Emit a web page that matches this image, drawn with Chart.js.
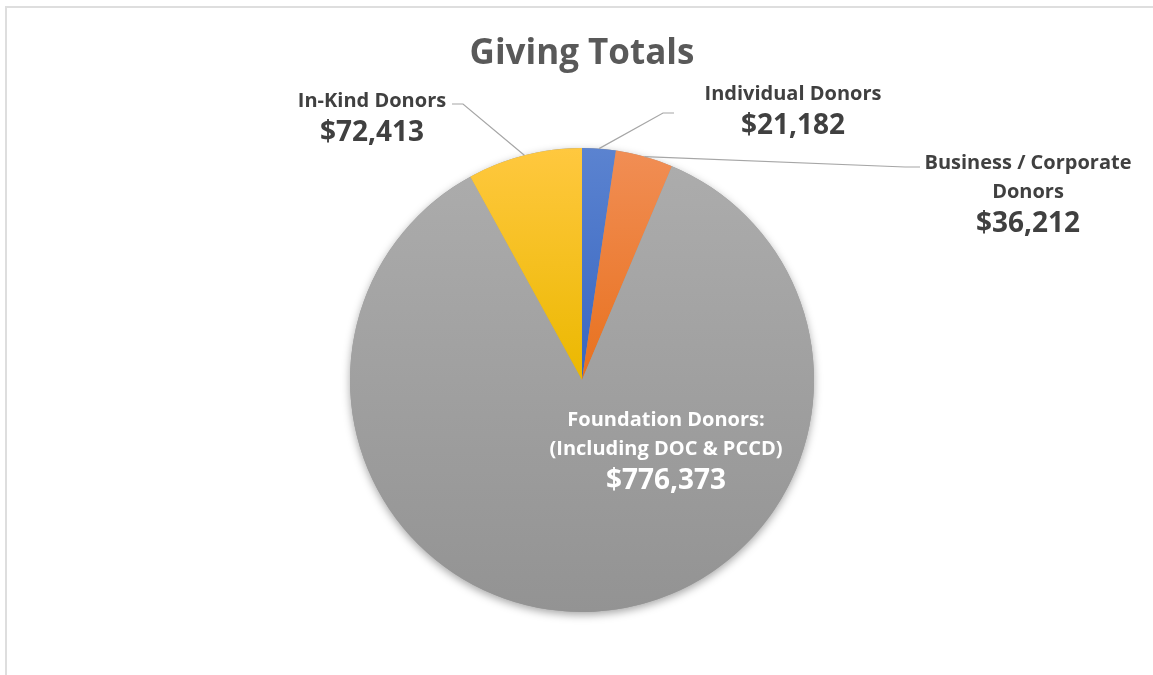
<!DOCTYPE html>
<html>
<head>
<meta charset="utf-8">
<title>Giving Totals</title>
<script src="https://cdn.jsdelivr.net/npm/chart.js@4"></script>
<style>
    html, body { margin: 0; padding: 0; background: #fff; overflow: hidden; }
    #frame {
        position: absolute; left: 5px; top: 6px; width: 1200px; height: 720px;
        border: 2px solid #dedede; box-sizing: border-box;
    }
    #wrap { position: absolute; left: 0; top: 0; width: 1153px; height: 675px; }
</style>
</head>
<body>
<div id="frame"></div>
<div id="wrap"><canvas id="givingChart"></canvas></div>
<script>
    // 데이터
    const categories = ['Individual Donors', 'Business / Corporate Donors', 'Foundation Donors', 'In-Kind Donors'];
    const totals = [21182, 36212, 776373, 72413];
    const labelLines = [
        ['Individual Donors'],
        ['Business / Corporate', 'Donors'],
        ['Foundation Donors:', '(Including DOC & PCCD)'],
        ['In-Kind Donors']
    ];
    const topColors = ['#5b83d0', '#f18e55', '#adadad', '#ffc83f'];
    const bottomColors = ['#3866c1', '#e8711e', '#939393', '#ebb800'];

    const FONT = '"Open Sans", Lato, sans-serif';

    function money(v) {
        return '$' + v.toLocaleString('en-US');
    }

    // 조각마다 위→아래 그라데이션
    function sliceFill(context) {
        const chart = context.chart;
        const area = chart.chartArea;
        if (!area) return topColors[context.dataIndex];
        const i = context.dataIndex;
        const midY = (area.top + area.bottom) / 2;
        const endY = i === 2 ? area.bottom : midY;
        const g = chart.ctx.createLinearGradient(0, area.top, 0, endY);
        g.addColorStop(0, topColors[i]);
        g.addColorStop(1, bottomColors[i]);
        return g;
    }

    // 파이 밑 그림자
    const pieShadow = {
        id: 'pieShadow',
        beforeDatasetsDraw(chart) {
            const arc = chart.getDatasetMeta(0).data[0];
            if (!arc) return;
            const ctx = chart.ctx;
            ctx.save();
            ctx.shadowColor = 'rgba(0,0,0,0.35)';
            ctx.shadowBlur = 9;
            ctx.shadowOffsetY = 3;
            ctx.fillStyle = '#999';
            ctx.beginPath();
            ctx.arc(arc.x, arc.y, arc.outerRadius, 0, Math.PI * 2);
            ctx.fill();
            ctx.restore();
        }
    };

    // 라벨 + 지시선
    // elbow / end / text 는 화면 위치(px)
    const labelSpots = [
        { elbow: [663, 113], end: [674, 113], x: 793, y: 94 },
        { elbow: [905, 167], end: [920, 167], x: 1028, y: 163 },
        { x: 666, y: 420, inside: true },
        { elbow: [463, 104], end: [452, 104], x: 372, y: 101 }
    ];

    const sliceLabels = {
        id: 'sliceLabels',
        afterDatasetsDraw(chart) {
            const ctx = chart.ctx;
            const meta = chart.getDatasetMeta(0);
            ctx.save();
            meta.data.forEach(function (arc, i) {
                const spot = labelSpots[i];
                if (!spot.inside) {
                    const mid = (arc.startAngle + arc.endAngle) / 2;
                    const sx = arc.x + Math.cos(mid) * arc.outerRadius;
                    const sy = arc.y + Math.sin(mid) * arc.outerRadius;
                    ctx.strokeStyle = '#a6a6a6';
                    ctx.lineWidth = 1.2;
                    ctx.beginPath();
                    ctx.moveTo(sx, sy);
                    ctx.lineTo(spot.elbow[0], spot.elbow[1]);
                    ctx.lineTo(spot.end[0], spot.end[1]);
                    ctx.stroke();
                }
                ctx.fillStyle = spot.inside ? '#ffffff' : '#404040';
                ctx.textAlign = 'center';
                ctx.textBaseline = 'middle';
                let y = spot.y;
                ctx.font = 'bold 20px ' + FONT;
                labelLines[i].forEach(function (line) {
                    ctx.fillText(line, spot.x, y);
                    y += 29;
                });
                ctx.font = 'bold 28px ' + FONT;
                ctx.fillText(money(totals[i]), spot.x, y + 3);
            });
            ctx.restore();
        }
    };

    const ctx = document.getElementById('givingChart');

    new Chart(ctx, {
        type: 'pie',
        data: {
            labels: categories,
            datasets: [{
                data: totals,
                backgroundColor: sliceFill,
                borderWidth: 0
            }]
        },
        options: {
            responsive: true,
            maintainAspectRatio: false,
            animation: false,
            layout: {
                padding: { top: 33, bottom: 63, left: 350, right: 339 }
            },
            plugins: {
                legend: { display: false },
                tooltip: { enabled: false },
                title: {
                    display: true,
                    text: 'Giving Totals',
                    color: '#595959',
                    font: { family: FONT, size: 35, weight: 'bold', lineHeight: 1.2 },
                    padding: { top: 0, bottom: 73 }
                }
            }
        },
        plugins: [pieShadow, sliceLabels]
    });
</script>
</body>
</html>
